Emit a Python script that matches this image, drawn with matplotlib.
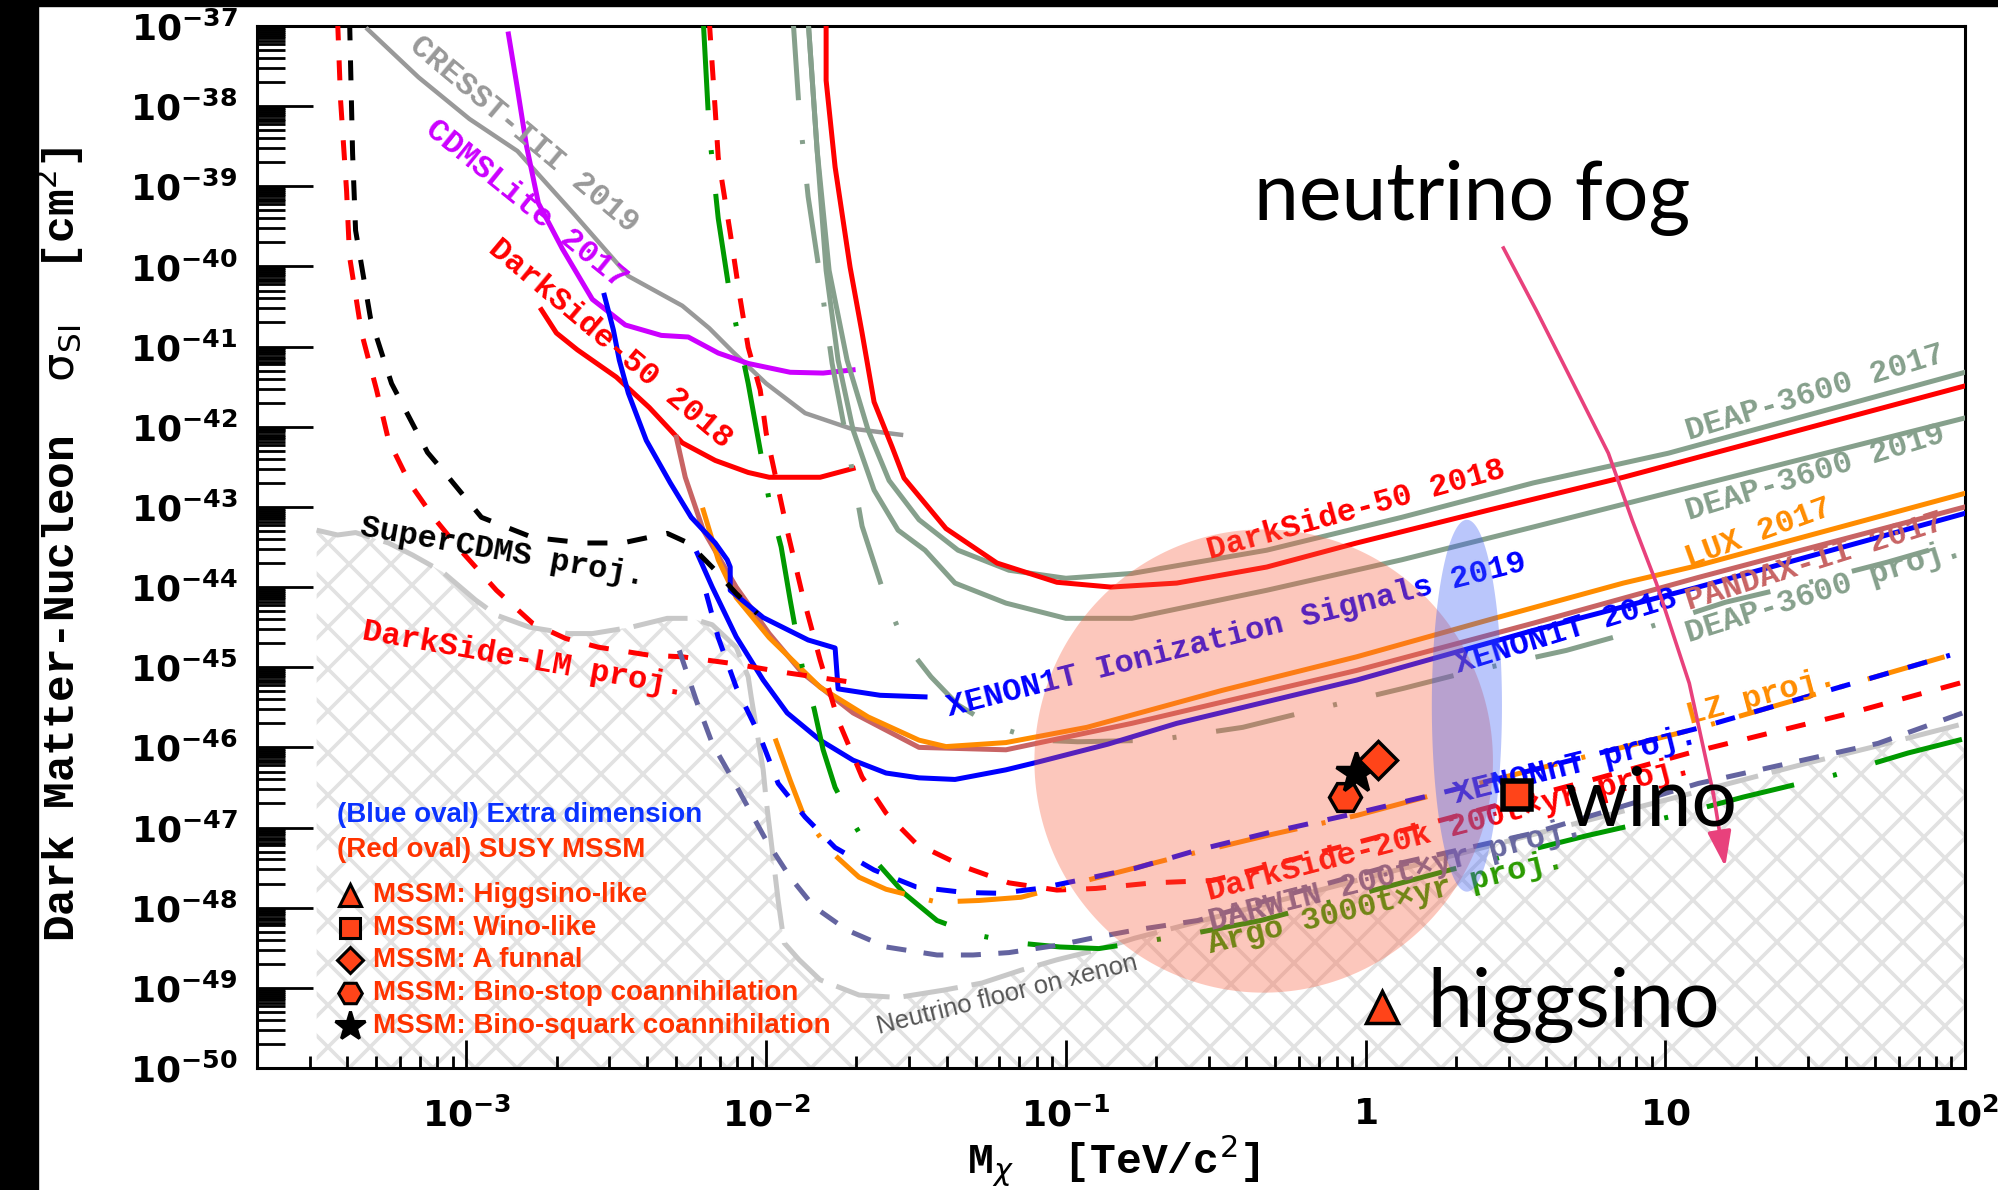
import numpy as np
import matplotlib
matplotlib.use('Agg')
import matplotlib.pyplot as plt
from matplotlib.collections import LineCollection
from matplotlib.patches import Polygon, Rectangle
from matplotlib.ticker import LogLocator, NullFormatter

plt.rcParams['mathtext.fontset'] = 'dejavusans'
MONO = 'Liberation Mono'

# all curves: log10(M / TeV) and log10(sigma_SI / cm^2)
cresst_m = [-3.33, -3.16, -2.99, -2.83, -2.64, -2.46, -2.28, -2.19, -2.11, -2.00, -1.87, -1.72, -1.55]
cresst_s = [-37.04, -37.64, -38.16, -38.56, -39.35, -40.12, -40.49, -40.77, -41.07, -41.46, -41.83, -42.02, -42.10]

cdmslite_m = [-2.86, -2.83, -2.80, -2.76, -2.68, -2.58, -2.47, -2.35, -2.26, -2.16, -2.06, -1.92, -1.81, -1.71]
cdmslite_s = [-37.10, -37.78, -38.49, -39.21, -39.78, -40.41, -40.73, -40.86, -40.88, -41.08, -41.21, -41.32, -41.33, -41.29]

ds50lm_m = [-2.75, -2.70, -2.63, -2.50, -2.39, -2.28, -2.17, -2.06, -1.99, -1.82, -1.71]
ds50lm_s = [-40.54, -40.83, -41.04, -41.38, -41.76, -42.20, -42.42, -42.57, -42.63, -42.63, -42.52]

ds50_m = [-1.80, -1.80, -1.77, -1.72, -1.68, -1.64, -1.58, -1.54, -1.40, -1.23, -1.03, -0.85, -0.63, -0.33, -0.03, 0.41, 0.86, 1.11, 2.00]
ds50_s = [-36.93, -37.68, -38.76, -40.01, -40.83, -41.69, -42.25, -42.64, -43.27, -43.70, -43.94, -44.00, -43.95, -43.75, -43.45, -43.04, -42.63, -42.38, -41.49]

deap17_m = [-1.86, -1.83, -1.79, -1.73, -1.66, -1.59, -1.49, -1.36, -1.19, -1.00, -0.78, -0.33, 0.12, 0.56, 1.01, 2.00]
deap17_s = [-36.93, -38.55, -40.05, -41.17, -42.04, -42.67, -43.16, -43.54, -43.79, -43.89, -43.83, -43.54, -43.13, -42.70, -42.33, -41.32]

deap19_m = [-1.86, -1.83, -1.80, -1.76, -1.71, -1.64, -1.56, -1.47, -1.37, -1.20, -1.00, -0.78, -0.33, 0.12, 0.56, 2.00]
deap19_s = [-36.93, -38.55, -40.05, -41.17, -42.04, -42.79, -43.29, -43.54, -43.95, -44.20, -44.39, -44.39, -44.04, -43.66, -43.25, -41.89]

deapproj_m = [-1.91, -1.89, -1.86, -1.82, -1.78, -1.73, -1.68, -1.60, -1.54, -1.45, -1.36, -1.25, -1.09, -0.96,
              -0.70, -0.41, -0.15, 0.13, 0.34, 0.67, 0.92, 1.20, 1.47, 1.74, 2.00]
deapproj_s = [-36.93, -38.05, -39.13, -40.13, -41.21, -42.19, -43.24, -44.16, -44.69, -45.12, -45.47, -45.72, -45.91, -45.93,
              -45.91, -45.75, -45.51, -45.26, -45.06, -44.79, -44.53, -44.19, -43.95, -43.69, -43.41]

x1tion_m = [-2.54, -2.51, -2.49, -2.46, -2.40, -2.32, -2.25, -2.17, -2.13, -2.12, -2.12, -2.01, -1.86, -1.77, -1.76, -1.62, -1.47]
x1tion_s = [-40.36, -40.79, -41.17, -41.58, -42.17, -42.70, -43.13, -43.45, -43.66, -43.75, -44.04, -44.38, -44.66, -44.76, -45.27, -45.35, -45.37]

x1t_m = [-2.23, -2.18, -2.10, -2.01, -1.93, -1.82, -1.71, -1.60, -1.49, -1.37, -1.20, -1.09, -0.86, -0.63, -0.03, 0.56, 1.11, 2.00]
x1t_s = [-43.58, -44.00, -44.62, -45.16, -45.57, -45.91, -46.16, -46.32, -46.38, -46.40, -46.28, -46.18, -45.96, -45.70, -45.16, -44.54, -44.00, -43.08]

lux_m = [-2.21, -2.16, -2.10, -1.99, -1.82, -1.66, -1.49, -1.40, -1.20, -0.93, -0.48, -0.03, 0.41, 0.86, 1.11, 2.00]
lux_s = [-43.04, -43.66, -44.13, -44.63, -45.25, -45.62, -45.91, -45.99, -45.94, -45.75, -45.29, -44.87, -44.41, -43.95, -43.73, -42.83]

pandax_m = [-2.30, -2.27, -2.21, -2.10, -1.99, -1.88, -1.71, -1.49, -1.20, -0.78, -0.03, 0.56, 1.11, 2.00]
pandax_s = [-42.13, -42.63, -43.29, -44.00, -44.58, -45.07, -45.57, -46.00, -46.03, -45.70, -45.04, -44.45, -43.88, -43.00]

scdms_m = [-3.39, -3.38, -3.37, -3.32, -3.25, -3.13, -3.06, -2.95, -2.78, -2.61, -2.48, -2.33, -2.26, -2.17, -2.10, -2.03]
scdms_s = [-36.93, -38.59, -39.55, -40.65, -41.46, -42.32, -42.63, -43.13, -43.38, -43.45, -43.45, -43.33, -43.45, -43.79, -44.08, -44.33]

dslm_m = [-3.43, -3.42, -3.40, -3.39, -3.35, -3.30, -3.26, -3.19, -3.11, -3.02, -2.90, -2.78, -2.67, -2.56, -2.39, -2.28, -2.12, -1.93, -1.71]
dslm_s = [-36.93, -37.93, -39.06, -39.88, -40.83, -41.54, -42.17, -42.70, -43.13, -43.54, -44.04, -44.45, -44.64, -44.75, -44.85, -44.87, -44.95, -45.07, -45.19]

ds20k_m = [-2.19, -2.17, -2.16, -2.12, -2.09, -2.06, -2.02, -2.00, -1.93, -1.88, -1.82, -1.76, -1.68, -1.60, -1.50, -1.34,
           -1.19, -1.03, -0.90, -0.71, -0.51, 0.11, 0.78, 1.08, 1.62, 1.99]
ds20k_s = [-36.93, -38.05, -38.64, -39.58, -40.33, -41.01, -41.54, -42.08, -43.29, -44.08, -44.91, -45.66, -46.37, -46.82, -47.20, -47.49,
           -47.69, -47.78, -47.76, -47.69, -47.66, -47.05, -46.38, -46.07, -45.57, -45.19]

xnt_m = [-2.20, -2.16, -2.10, -2.02, -1.96, -1.87, -1.77, -1.64, -1.50, -1.34, -1.22, -1.09, -0.96, -0.77, -0.56, -0.33, -0.03, 0.26, 0.56, 1.11, 1.95]
xnt_s = [-44.08, -44.63, -45.25, -45.87, -46.45, -46.87, -47.25, -47.53, -47.74, -47.81, -47.82, -47.76, -47.66, -47.51, -47.28, -47.07, -46.82, -46.56, -46.28, -45.76, -44.85]

lz_m = [-1.97, -1.92, -1.88, -1.79, -1.69, -1.60, -1.43, -1.29, -1.15, -0.89, -0.63, -0.33, -0.03, 0.26, 0.56, 1.11, 1.95]
lz_s = [-45.89, -46.41, -46.80, -47.28, -47.62, -47.77, -47.93, -47.91, -47.87, -47.62, -47.37, -47.10, -46.85, -46.56, -46.28, -45.76, -44.85]

darwin_m = [-2.29, -2.23, -2.18, -2.11, -2.05, -2.00, -1.92, -1.84, -1.73, -1.60, -1.43, -1.31, -1.19, -1.03, -0.90, -0.77,
            -0.56, -0.33, 0.12, 0.56, 1.11, 1.41, 1.71, 2.00]
darwin_s = [-44.79, -45.45, -45.95, -46.41, -46.82, -47.16, -47.62, -47.99, -48.28, -48.49, -48.59, -48.59, -48.56, -48.47, -48.37, -48.28,
            -48.16, -47.91, -47.44, -47.07, -46.45, -46.20, -45.95, -45.56]

argo_m = [-2.21, -2.19, -2.16, -2.12, -2.06, -2.02, -1.99, -1.95, -1.92, -1.88, -1.84, -1.81, -1.77, -1.70, -1.63, -1.54, -1.43,
          -1.30, -1.16, -1.02, -0.89, -0.75, -0.60, -0.35, -0.06, 0.28, 0.74, 1.01, 1.26, 1.56, 1.81, 2.00]
argo_s = [-36.93, -38.32, -39.40, -40.38, -41.46, -42.29, -42.92, -43.50, -44.16, -44.99, -45.52, -46.03, -46.50, -47.00, -47.44, -47.82, -48.16,
          -48.34, -48.44, -48.49, -48.51, -48.43, -48.34, -48.16, -47.87, -47.53, -47.10, -46.87, -46.62, -46.35, -46.07, -45.89]

floor_m = [-3.50, -3.43, -3.37, -3.26, -3.18, -3.08, -2.97, -2.90, -2.79, -2.66, -2.58, -2.45, -2.33, -2.25, -2.18, -2.10, -2.06, -2.05,
           -2.01, -2.00, -1.98, -1.96, -1.94, -1.89, -1.82, -1.69, -1.56, -1.41, -1.28, -1.15, -1.03, -0.90, -0.77, 0.32, 1.47, 1.72, 2.00]
floor_s = [-43.29, -43.35, -43.32, -43.45, -43.60, -43.81, -44.16, -44.35, -44.50, -44.58, -44.58, -44.50, -44.39, -44.39, -44.47, -44.75, -45.12, -45.37,
           -46.28, -46.66, -47.28, -47.91, -48.44, -48.65, -48.90, -49.09, -49.12, -49.03, -48.94, -48.78, -48.65, -48.53, -48.38, -47.32, -46.20, -45.97, -45.70]

arrow_m = [0.46, 0.57, 0.67, 0.81, 0.89, 0.97, 1.08, 1.16, 1.20]
arrow_s = [-39.77, -40.55, -41.29, -42.33, -43.17, -43.95, -45.20, -46.57, -47.49]

# ovals: centre and half axes, in decades
red_oval = (-0.34, -46.17, 0.765, 2.89)
blue_oval = (0.338, -45.48, 0.117, 2.32)

# model points: name, marker, log10 M, log10 sigma
points = [('hex', 'H', -0.069, -46.62), ('star', '*', -0.033, -46.32), ('diam', 'D', 0.041, -46.16),
          ('sq', 's', 0.504, -46.60), ('tri', '^', 0.054, -49.24)]

# curve labels: text, log10 M, log10 sigma, rotation, colour
labels = [
    ('CRESST-III 2019', -2.81, -38.35, -40, '#999999'),
    ('CDMSLite 2017', -2.80, -39.23, -39, '#cc00ff'),
    ('DarkSide-50 2018', -2.52, -40.97, -40, '#ff0000'),
    ('SuperCDMS proj.', -2.88, -43.56, -10, 'black'),
    ('DarkSide-LM proj.', -2.81, -44.91, -10, '#ff0000'),
    ('XENON1T Ionization Signals 2019', -0.43, -44.60, 14.2, '#0000ff'),
    ('DarkSide-50 2018', -0.03, -43.04, 15.5, '#ff0000'),
    ('DEAP-3600 2017', 1.50, -41.58, 17, '#86a08c'),
    ('DEAP-3600 2019', 1.50, -42.57, 17, '#86a08c'),
    ('LUX 2017', 1.31, -43.33, 20, '#ff8c00'),
    ('PANDAX-II 2017', 1.50, -43.68, 17.5, '#c86464'),
    ('XENON1T 2018', 0.67, -44.56, 17, '#0000ff'),
    ('DEAP-3600 proj.', 1.53, -44.05, 17.5, '#86a08c'),
    ('LZ proj.', 1.32, -45.37, 15, '#ff8c00'),
    ('XENONnT proj.', 0.70, -46.22, 14, '#0000ff'),
    ('DarkSide-20k 200t\u00d7yr proj.', 0.28, -47.02, 14.7, '#ff0000'),
    ('DARWIN 200t\u00d7yr proj.', 0.10, -47.59, 14.3, '#6868a0'),
    ('Argo 3000t\u00d7yr proj.', 0.07, -47.94, 13.6, '#2a9a00'),
]

legend_rows = ['MSSM: Higgsino-like', 'MSSM: Wino-like', 'MSSM: A funnal',
               'MSSM: Bino-stop coannihilation', 'MSSM: Bino-squark coannihilation']
legend_marks = ['^', 's', 'D', 'H', '*']

xticks = [1e-3, 1e-2, 1e-1, 1, 10, 100]
xticklabels = [r'$\mathbf{10^{-3}}$', r'$\mathbf{10^{-2}}$', r'$\mathbf{10^{-1}}$', r'$\mathbf{1}$', r'$\mathbf{10}$', r'$\mathbf{10^{2}}$']
yexp = list(range(-50, -36))

fig = plt.figure(figsize=(19.99, 11.90), dpi=100)
rect = [0.12856, 0.10252, 0.85443, 0.87563]
ax = fig.add_axes(rect)
ax.set_xscale('log')
ax.set_yscale('log')

def P(m, s):
    return 10.0 ** np.asarray(m), 10.0 ** np.asarray(s)

LW = 3.6
ax.plot(*P(cresst_m, cresst_s), color='#999999', lw=3.2, zorder=3)
ax.plot(*P(cdmslite_m, cdmslite_s), color='#cc00ff', lw=LW, zorder=3)
ax.plot(*P(ds50lm_m, ds50lm_s), color='#ff0000', lw=LW, zorder=3)
ax.plot(*P(deap17_m, deap17_s), color='#86a08c', lw=LW, zorder=3)
ax.plot(*P(deap19_m, deap19_s), color='#86a08c', lw=LW, zorder=3)
ax.plot(*P(ds50_m, ds50_s), color='#ff0000', lw=LW, zorder=3)
ax.plot(*P(deapproj_m, deapproj_s), color='#86a08c', lw=LW, dashes=(16, 8, 0.8, 8), zorder=3)
ax.plot(*P(pandax_m, pandax_s), color='#c86464', lw=LW, zorder=3)
ax.plot(*P(lux_m, lux_s), color='#ff8c00', lw=LW, zorder=3)
ax.plot(*P(x1tion_m, x1tion_s), color='#0000ff', lw=LW, zorder=3)
ax.plot(*P(x1t_m, x1t_s), color='#0000ff', lw=LW, zorder=3)
ax.plot(*P(scdms_m, scdms_s), color='black', lw=LW, dashes=(4, 4), zorder=3)
ax.plot(*P(dslm_m, dslm_s), color='#ff0000', lw=LW, dashes=(4, 4), zorder=3)
ax.plot(*P(argo_m, argo_s), color='#009900', lw=LW, dashes=(18, 8, 0.8, 8), zorder=3)
ax.plot(*P(ds20k_m, ds20k_s), color='#ff0000', lw=LW, dashes=(4, 4), zorder=3)
ax.plot(*P(darwin_m, darwin_s), color='#6464a0', lw=LW, dashes=(4, 3.5), zorder=3)
ax.plot(*P(lz_m, lz_s), color='#ff8c00', lw=LW, dashes=(16, 5, 0.8, 5), zorder=3)
ax.plot(*P(xnt_m, xnt_s), color='#0000ff', lw=LW, dashes=(4, 4), zorder=3)
ax.plot(*P(floor_m, floor_s), color='#c8c8c8', lw=LW, dashes=(11, 2.8), zorder=2.5)

# hatched neutrino-floor region
fx, fy = P(floor_m, floor_s)
poly = Polygon(np.column_stack([np.r_[fx, fx[-1], fx[0]], np.r_[fy, 1e-50, 1e-50]]),
               closed=True, facecolor='none', edgecolor='none')
ax.add_patch(poly)
W = 19.99 * 100 * rect[2]
H = 11.90 * 100 * rect[3]
segs = []
for x0 in np.arange(-H, W + H, 42):
    segs.append([(x0 / W, 0), ((x0 + H) / W, 1)])
    segs.append([(x0 / W, 0), ((x0 - H) / W, 1)])
hatch = LineCollection(segs, colors='#e2e2e2', linewidths=2.6, transform=ax.transAxes, zorder=1)
ax.add_collection(hatch, autolim=False)
hatch.set_clip_path(poly)

for txt, m, s, rot, col in labels:
    ax.text(10 ** m, 10 ** s, txt, rotation=rot, rotation_mode='anchor', ha='center', va='center',
            color=col, fontsize=23, family=MONO, weight='bold', zorder=3.5)
ax.text(10 ** -1.196, 10 ** -49.09, 'Neutrino floor on xenon', rotation=14, rotation_mode='anchor',
        ha='center', va='center', color='#555555', fontsize=18.5, family='Liberation Sans', zorder=3.5)

# ovals
t = np.linspace(0, 2 * np.pi, 300)
for (cm, cs, a, b), col in [(red_oval, '#f9603f'), (blue_oval, '#3a5cf5')]:
    ax.fill(*P(cm + a * np.cos(t), cs + b * np.sin(t)), color=col, alpha=0.35, lw=0, zorder=4)

MFC = '#ff4419'
for name, mk, m, s in points:
    size = {'H': 23, '*': 30, 'D': 19, 's': 20, '^': 23}[mk]
    mew = 4 if mk == 's' else 2.5
    ax.plot(10 ** m, 10 ** s, marker=mk, ms=size, mfc='black' if mk == '*' else MFC,
            mec='black', mew=mew, ls='none', zorder=6)

# arrow
am, asig = P(arrow_m, arrow_s)
ax.plot(am[:-1], asig[:-1], color='#e8417c', lw=2.6, zorder=6)
ax.annotate('', xy=(am[-1], asig[-1]), xytext=(am[-2], asig[-2]),
            arrowprops=dict(arrowstyle='-|>,head_length=1.2,head_width=0.4', color='#e8417c', lw=2.6,
                            mutation_scale=18, shrinkA=0, shrinkB=0), zorder=6)

big = dict(fontsize=58, family='Lato', weight='normal', color='black', zorder=7)
ax.text(10 ** 0.357, 10 ** -39.42, 'neutrino fog', ha='center', va='baseline', **big)
ax.text(10 ** 0.664, 10 ** -46.97, 'wino', ha='left', va='baseline', **big)
ax.text(10 ** 0.207, 10 ** -49.49, 'higgsino', ha='left', va='baseline', **big)

# legend block
lf = dict(fontsize=20, family='Liberation Sans', weight='bold', transform=ax.transAxes, va='center', zorder=7)
ax.text(0.0468, 0.2428, '(Blue oval) Extra dimension', color='#0a32ff', **lf)
ax.text(0.0468, 0.2092, '(Red oval) SUSY MSSM', color='#ff3300', **lf)
for i, (row, mk) in enumerate(zip(legend_rows, legend_marks)):
    yy = 0.1660 - i * 0.0314
    ax.plot(0.0545, yy, marker=mk, ms={'^': 16, 's': 14, 'D': 13, 'H': 17, '*': 22}[mk],
            mfc='black' if mk == '*' else MFC, mec='black', mew=2.2, transform=ax.transAxes,
            clip_on=False, zorder=7)
    ax.text(0.0679, yy, row, color='#ff3300', **lf)

ax.set_xlim(2e-4, 100)
ax.set_ylim(1e-50, 1e-37)
ax.set_xticks(xticks)
ax.set_xticklabels(xticklabels)
ax.set_yticks([10.0 ** e for e in yexp])
ax.set_yticklabels([r'$\mathbf{10^{%d}}$' % e for e in yexp])
ax.xaxis.set_minor_locator(LogLocator(base=10, subs=np.arange(2, 10), numticks=100))
ax.yaxis.set_minor_locator(LogLocator(base=10, subs=[2, 3, 4, 5, 6, 6.5, 7, 7.5, 8, 8.5, 9, 9.5], numticks=1000))
ax.xaxis.set_minor_formatter(NullFormatter())
ax.yaxis.set_minor_formatter(NullFormatter())
ax.tick_params(axis='x', which='major', direction='in', length=20, width=2, labelsize=26, pad=21,
               top=False, bottom=True)
ax.tick_params(axis='x', which='minor', direction='in', length=9, width=2, top=False)
ax.tick_params(axis='y', which='major', direction='in', length=40, width=2, labelsize=26, pad=14,
               right=False, left=True)
ax.tick_params(axis='y', which='minor', direction='in', length=20, width=2, right=False)
for sp in ax.spines.values():
    sp.set_linewidth(2.2)

ax.set_xlabel(r'M$_{\chi}$  [TeV/c$^{2}$]', fontsize=31, family=MONO, weight='bold')
ax.set_ylabel(r'Dark Matter-Nucleon  $\mathrm{\sigma_{SI}}$  [cm$^{2}$]', fontsize=32, family=MONO, weight='bold')
ax.xaxis.set_label_coords(0.501, -0.063)
ax.yaxis.set_label_coords(-0.100, 0.502)

# black frame strips of the original screenshot
fig.add_artist(Rectangle((0, 0), 38 / 1999, 1, transform=fig.transFigure, color='black', zorder=10))
fig.add_artist(Rectangle((0, 1 - 6 / 1190), 1, 6 / 1190, transform=fig.transFigure, color='black', zorder=10))

fig.savefig('out.png', dpi=100)
